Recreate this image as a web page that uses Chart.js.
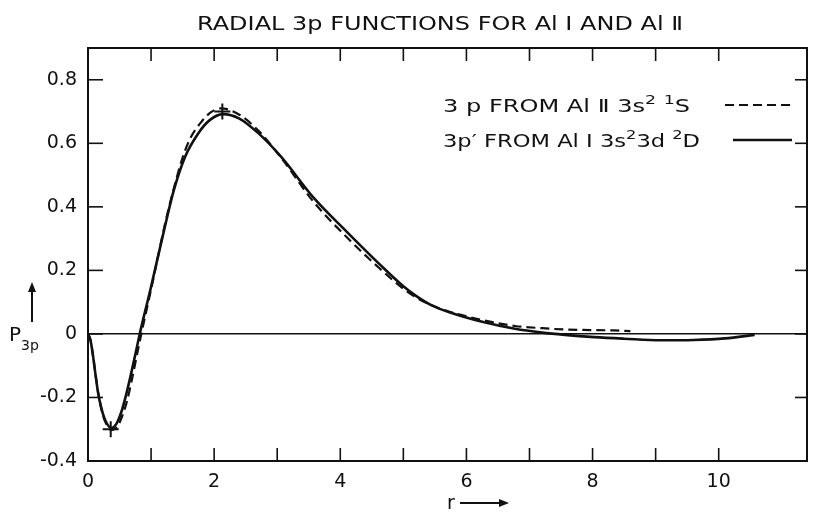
<!DOCTYPE html>
<html>
<head>
<meta charset="utf-8">
<script src="https://cdn.jsdelivr.net/npm/chart.js@4.4.0/dist/chart.umd.min.js"></script>
<style>
  html, body { margin: 0; padding: 0; background: #fff; }
  #wrap { width: 817px; height: 514px; }
</style>
</head>
<body>
<div id="wrap"><canvas id="radialChart"></canvas></div>
<script>
// 3p' from Al I 3s2 3d 2D  (solid)
var alOneR = [0, 0.04, 0.08, 0.12, 0.16, 0.21, 0.27, 0.37, 0.45, 0.53, 0.6, 0.68, 0.75, 0.82, 0.99, 1.23, 1.36, 1.54, 1.75, 1.93, 2.14, 2.4, 2.7, 3.06, 3.58, 4.1, 4.63, 5.0, 5.2, 5.45, 5.73, 6.25, 6.77, 7.2, 7.56, 8.03, 8.5, 9.08, 9.6, 10.1, 10.57];
var alOneP = [0, -0.02, -0.07, -0.13, -0.185, -0.232, -0.27, -0.296, -0.283, -0.245, -0.195, -0.128, -0.065, 0, 0.14, 0.347, 0.452, 0.558, 0.632, 0.673, 0.692, 0.678, 0.632, 0.558, 0.428, 0.322, 0.218, 0.15, 0.12, 0.09, 0.068, 0.038, 0.016, 0.004, -0.003, -0.01, -0.015, -0.02, -0.019, -0.014, -0.003];

// 3p from Al II 3s2 1S  (dashed)
var alTwoR = [0, 0.04, 0.08, 0.12, 0.16, 0.21, 0.27, 0.38, 0.47, 0.55, 0.62, 0.7, 0.77, 0.845, 1.0, 1.22, 1.35, 1.5, 1.62, 1.8, 1.95, 2.11, 2.4, 2.7, 3.06, 3.58, 4.1, 4.63, 5.0, 5.2, 5.45, 5.73, 6.25, 6.77, 7.2, 7.56, 8.34, 8.6];
var alTwoP = [0, -0.02, -0.068, -0.128, -0.183, -0.235, -0.275, -0.303, -0.29, -0.255, -0.21, -0.14, -0.072, 0, 0.14, 0.345, 0.45, 0.555, 0.615, 0.668, 0.698, 0.71, 0.69, 0.64, 0.555, 0.415, 0.305, 0.205, 0.142, 0.115, 0.09, 0.07, 0.044, 0.025, 0.018, 0.014, 0.011, 0.009];

// "+" marks at the extrema
var markR = [0.36, 2.13];
var markP = [-0.30, 0.70];

var xTickStep = 1, yTickStep = 0.2;
var xLabelEvery = 2;

function pts(xs, ys) { return xs.map(function (v, i) { return { x: v, y: ys[i] }; }); }

var FONT = '"DejaVu Sans", sans-serif';
var INK = '#111';

function line(ctx, x1, y1, x2, y2) { ctx.beginPath(); ctx.moveTo(x1, y1); ctx.lineTo(x2, y2); ctx.stroke(); }

// text with superscripts, squeezed to a given width
function richText(ctx, segs, x, base, size, width) {
  var total = 0;
  segs.forEach(function (s) {
    ctx.font = (s.sup ? size * 0.72 : size) + 'px ' + FONT;
    s.w = ctx.measureText(s.t).width; total += s.w;
  });
  var k = width ? width / total : 1;
  ctx.save();
  ctx.translate(x, base); ctx.scale(k, 1);
  var cx = 0;
  segs.forEach(function (s) {
    ctx.font = (s.sup ? size * 0.72 : size) + 'px ' + FONT;
    ctx.fillText(s.t, cx, s.sup ? -size * 0.45 : 0);
    cx += s.w;
  });
  ctx.restore();
}

var decorations = {
  id: 'decorations',
  afterDraw: function (chart) {
    var ctx = chart.ctx, a = chart.chartArea, xs = chart.scales.x, ys = chart.scales.y;
    ctx.save();
    ctx.strokeStyle = INK; ctx.fillStyle = INK; ctx.lineCap = 'butt';

    // frame
    ctx.lineWidth = 2;
    ctx.strokeRect(a.left, a.top, a.right - a.left, a.bottom - a.top);

    // inward ticks
    ctx.lineWidth = 1.6;
    xs.ticks.forEach(function (t) {
      var k = t.value / xTickStep;
      if (Math.abs(k - Math.round(k)) > 1e-6) return;
      var px = xs.getPixelForValue(t.value);
      line(ctx, px, a.bottom, px, a.bottom - 13);
      line(ctx, px, a.top, px, a.top + 13);
    });
    ys.ticks.forEach(function (t) {
      var k = t.value / yTickStep;
      if (Math.abs(k - Math.round(k)) > 1e-6) return;
      var py = ys.getPixelForValue(t.value);
      line(ctx, a.left, py, a.left + 15, py);
      line(ctx, a.right, py, a.right - 12, py);
    });

    // title
    ctx.textAlign = 'left'; ctx.textBaseline = 'alphabetic';
    richText(ctx, [{ t: 'RADIAL 3p FUNCTIONS FOR Al \u2160 AND Al \u2161' }], 197, 30, 19, 486);

    // legend
    var ds = chart.data.datasets;
    richText(ctx, [{ t: '3 p FROM Al \u2161 3s' }, { t: '2', sup: true }, { t: ' ' }, { t: '1', sup: true }, { t: 'S' }], 443, 112, 18, 247);
    richText(ctx, [{ t: '3p\u2032 FROM Al \u2160 3s' }, { t: '2', sup: true }, { t: '3d ' }, { t: '2', sup: true }, { t: 'D' }], 443, 147, 18, 257);
    ctx.lineWidth = ds[1].borderWidth;
    ctx.setLineDash(ds[1].borderDash);
    line(ctx, 725, 105, 792, 105);
    ctx.setLineDash([]);
    ctx.lineWidth = ds[0].borderWidth;
    line(ctx, 733, 140, 792, 140);

    // y label P3p with arrow
    richText(ctx, [{ t: 'P' }], 9, 341, 20);
    richText(ctx, [{ t: '3p' }], 21, 350, 14);
    ctx.lineWidth = 2;
    line(ctx, 32, 322, 32, 290);
    ctx.beginPath(); ctx.moveTo(32, 282); ctx.lineTo(28, 292); ctx.lineTo(36, 292); ctx.closePath(); ctx.fill();

    // x label r with arrow
    richText(ctx, [{ t: 'r' }], 447, 509, 19);
    line(ctx, 460, 503, 500, 503);
    ctx.beginPath(); ctx.moveTo(509, 503); ctx.lineTo(499, 499); ctx.lineTo(499, 507); ctx.closePath(); ctx.fill();

    ctx.restore();
  }
};

document.addEventListener("DOMContentLoaded", function () {

new Chart(document.getElementById('radialChart'), {
    type: 'line',
    data: {
        datasets: [{
            label: "3p' from Al I 3s2 3d 2D",
            data: pts(alOneR, alOneP),
            borderColor: INK,
            borderWidth: 2.6,
            borderDash: [],
            pointRadius: 0,
            cubicInterpolationMode: 'monotone'
        }, {
            label: '3p from Al II 3s2 1S',
            data: pts(alTwoR, alTwoP),
            borderColor: INK,
            borderWidth: 2.2,
            borderDash: [9, 5],
            pointRadius: 0,
            cubicInterpolationMode: 'monotone'
        }, {
            type: 'scatter',
            label: 'extrema',
            data: pts(markR, markP),
            showLine: false,
            pointStyle: 'cross',
            pointRadius: 8,
            borderColor: INK,
            borderWidth: 2
        }]
    },
    options: {
        responsive: true,
        maintainAspectRatio: false,
        animation: false,
        layout: { padding: { top: 48, right: 2, bottom: 0, left: 0 } },
        plugins: { legend: { display: false }, title: { display: false }, tooltip: { enabled: false } },
        scales: {
            x: {
                type: 'linear',
                min: 0,
                max: 11.4,
                afterFit: function (s) { s.height = 53; },
                border: { display: false },
                grid: { display: false, drawTicks: false },
                ticks: {
                    stepSize: xTickStep,
                    autoSkip: false,
                    maxRotation: 0,
                    padding: 10,
                    color: INK,
                    font: { family: 'DejaVu Sans', size: 19 },
                    callback: function (v) {
                        var k = v / xLabelEvery;
                        return Math.abs(k - Math.round(k)) < 1e-6 ? String(Math.round(v)) : '';
                    }
                }
            },
            y: {
                min: -0.4,
                max: 0.9,
                afterFit: function (s) { s.width = 88; },
                border: { display: false },
                grid: {
                    drawTicks: false,
                    lineWidth: 1.5,
                    color: function (c) { return c.tick && Math.abs(c.tick.value) < 1e-9 ? INK : 'rgba(0,0,0,0)'; }
                },
                ticks: {
                    stepSize: yTickStep,
                    autoSkip: false,
                    padding: 11,
                    color: INK,
                    font: { family: 'DejaVu Sans', size: 19 },
                    callback: function (v) {
                        var k = v / yTickStep;
                        if (Math.abs(k - Math.round(k)) > 1e-6) return '';
                        var r = Math.round(v * 10) / 10;
                        return r === 0 ? '0' : r.toFixed(1);
                    }
                }
            }
        }
    },
    plugins: [decorations]
});

});
</script>
</body>
</html>
